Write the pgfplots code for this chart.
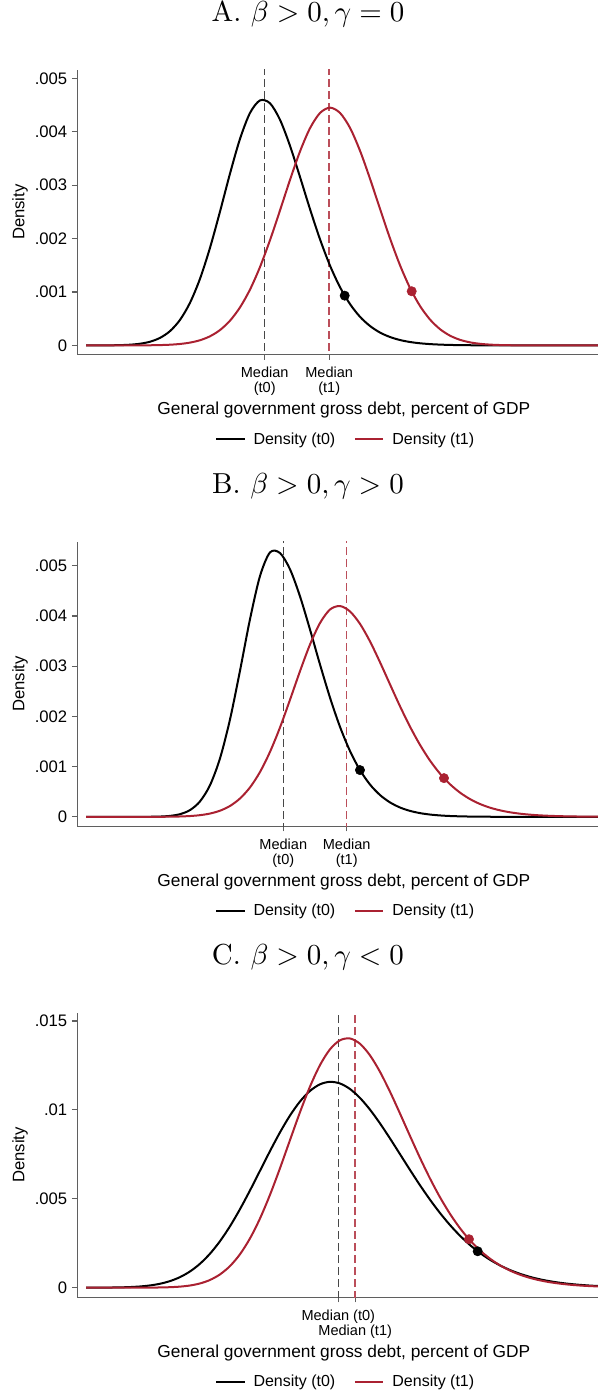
\documentclass[border=0pt]{standalone}
\usepackage{graphicx}
\usepackage{fontspec}
\usepackage{pgfplots}
\pgfplotsset{compat=1.18}
\newfontfamily\arial{Liberation Sans}
\definecolor{dred}{RGB}{170,33,49}
\definecolor{axgray}{RGB}{95,95,95}

% x data are positions along the debt axis (arbitrary units, no numeric ticks in the source)
\pgfplotsset{
  densplot/.style={
    scale only axis, width=390.5pt, height=213.3pt,
    xmin=77.3, xmax=598,
    axis x line=bottom, axis y line=left,
    axis line style={axgray, line width=0.8pt, -},
    every outer x axis line/.append style={-},
    every outer y axis line/.append style={-},
    tick align=outside, major tick length=4pt,
    tick style={axgray, line width=0.8pt},
    scaled y ticks=false,
    yticklabel style={font=\arial\fontsize{12.5}{15}\selectfont, text=black},
    xticklabel style={font=\arial\fontsize{10.9}{11}\selectfont, align=center, text=black, yshift=-2pt},
    xlabel={General government gross debt, percent of GDP},
    xlabel style={at={(axis description cs:0.512,-0.2125)}, anchor=base, font=\arial\fontsize{13}{15}\selectfont},
    ylabel={Density},
    ylabel style={at={(axis description cs:-0.110,0.5)}, anchor=center, font=\arial\fontsize{12.5}{15}\selectfont},
    title style={at={(axis description cs:0.443,1.142)}, anchor=base, inner sep=0pt},
    legend style={at={(axis description cs:0.516,-0.299)}, anchor=center, draw=none, fill=none,
      font=\arial\fontsize{12}{14}\selectfont, legend columns=2,
      /tikz/every odd column/.append style={column sep=4pt},
      /tikz/every even column/.append style={column sep=12pt}},
    legend image code/.code={\draw[#1] (0cm,0cm) -- (0.75cm,0cm);},
  },
  t0/.style={black, line width=1.5pt, smooth},
  t1/.style={dred, line width=1.5pt, smooth},
  med0/.style={black!72, line width=1.05pt, dash pattern=on 6pt off 3pt, forget plot},
  med1/.style={dred!80, line width=1.05pt, dash pattern=on 6pt off 3pt, forget plot},
  dot0/.style={only marks, mark=*, mark size=3.5pt, black, forget plot},
  dot1/.style={only marks, mark=*, mark size=3.5pt, dred, forget plot},
}
\newcommand\ptitle[1]{\scalebox{2.17}{#1}}

\begin{document}
\begin{tikzpicture}
\useasboundingbox (-57.98pt,52.5pt) rectangle (390.53pt,-990.75pt);

% ---------- A ----------
\begin{axis}[densplot, at={(0,0)}, anchor=north west,
  ymin=-0.000168, ymax=0.005155,
  ytick={0,0.001,0.002,0.003,0.004,0.005}, yticklabels={0,.001,.002,.003,.004,.005},
  xtick={264.7,329.2}, xticklabels={{Median\\(t0)},{Median\\(t1)}},
  title={\ptitle{A. $\beta > 0, \gamma = 0$}}]
\addplot[med0] coordinates {(264.7,-0.001) (264.7,0.006)};
\addplot[med1] coordinates {(329.2,-0.001) (329.2,0.006)};
\addplot[t0] coordinates {
  (86,0) (100,0.0000007) (110,0.0000021) (120,0.0000055) (130,0.0000137)
  (140,0.0000318) (150,0.0000692) (160,0.000141) (170,0.000268) (180,0.000478)
  (190,0.000798) (200,0.001248) (210,0.001827) (220,0.002505) (230,0.003216)
  (240,0.003866) (250,0.004351) (260,0.004586) (270,0.004532)
  (280,0.004224) (290,0.003737) (300,0.003154) (310,0.002552) (320,0.001987)
  (330,0.001495) (340,0.001091) (350,0.000775) (360,0.000536) (370,0.000364)
  (380,0.000241) (390,0.0001576) (400,0.0001012) (410,0.0000642) (420,0.0000402)
  (430,0.0000249) (440,0.0000153) (450,0.0000093) (460,0.0000056) (470,0.0000034)
  (480,0.000002) (500,0.0000008) (540,0) (598,0)};
\addlegendentry{Density (t0)}
\addplot[t1] coordinates {
  (86,0) (120,0) (140,0.0000012) (150,0.0000029) (160,0.0000064) (170,0.0000135)
  (180,0.0000273) (190,0.0000527) (200,0.0000971) (210,0.000171) (220,0.000288)
  (230,0.000463) (240,0.000712) (250,0.001045) (260,0.001468) (270,0.00197)
  (280,0.002527) (290,0.003098) (300,0.00363) (310,0.004065) (320,0.00435)
  (330,0.00445) (340,0.004352) (350,0.004073) (360,0.003645) (370,0.003121)
  (380,0.002557) (390,0.002004) (400,0.001502) (410,0.001077) (420,0.000739)
  (430,0.000485) (440,0.000305) (450,0.000183) (460,0.000105) (470,0.0000578)
  (480,0.0000304) (490,0.0000153) (500,0.0000074) (510,0.0000034) (520,0.0000015)
  (540,0) (598,0)};
\addlegendentry{Density (t1)}
\addplot[dot0] coordinates {(344.7,0.000932)};
\addplot[dot1] coordinates {(411.7,0.001014)};
\end{axis}

% ---------- B ----------
\begin{axis}[densplot, at={(0,-353.8pt)}, anchor=north west,
  ymin=-0.000185, ymax=0.005478,
  ytick={0,0.001,0.002,0.003,0.004,0.005}, yticklabels={0,.001,.002,.003,.004,.005},
  xtick={283.3,346.7}, xticklabels={{Median\\(t0)},{Median\\(t1)}},
  title={\ptitle{B. $\beta > 0, \gamma > 0$}}]
\addplot[med0] coordinates {(283.3,-0.001) (283.3,0.006)};
\addplot[med1] coordinates {(346.7,-0.001) (346.7,0.006)};
\addplot[t0] coordinates {
  (86,0) (140,0) (150,0.0000018) (160,0.0000062) (170,0.0000191) (180,0.0000535)
  (190,0.000135) (200,0.0003075) (210,0.00063) (220,0.001164) (230,0.001939)
  (240,0.00291) (250,0.003935) (260,0.004795) (270,0.005266)
  (280,0.005253) (290,0.00493) (300,0.004391) (310,0.00373) (320,0.003035)
  (330,0.002375) (340,0.001793) (350,0.001311) (360,0.000931) (370,0.000644)
  (380,0.000435) (390,0.000288) (400,0.0001866) (410,0.0001189) (420,0.0000746)
  (430,0.0000461) (440,0.0000281) (450,0.000017) (460,0.0000102) (470,0.0000061)
  (480,0.0000036) (500,0.0000013) (540,0) (598,0)};
\addlegendentry{Density (t0)}
\addplot[t1] coordinates {
  (86,0) (140,0) (160,0.0000014) (170,0.0000033) (180,0.0000075) (190,0.0000163)
  (200,0.0000336) (210,0.0000658) (220,0.0001226) (230,0.000217) (240,0.000366)
  (250,0.000586) (260,0.000893) (270,0.001294) (280,0.00178) (290,0.002331)
  (300,0.0029) (310,0.003431) (320,0.003859) (330,0.004128) (340,0.004198)
  (350,0.00409) (360,0.003843) (370,0.003494) (380,0.003079) (390,0.002639)
  (400,0.002203) (410,0.001797) (420,0.001434) (430,0.001121) (440,0.000861)
  (450,0.00065) (460,0.000483) (470,0.000354) (480,0.000256) (490,0.000183)
  (500,0.00013) (510,0.000091) (520,0.0000632) (530,0.0000436) (540,0.0000298)
  (550,0.0000203) (560,0.0000137) (570,0.0000092) (580,0.0000062) (590,0.0000041)
  (598,0.000003)};
\addlegendentry{Density (t1)}
\addplot[dot0] coordinates {(360,0.000931)};
\addplot[dot1] coordinates {(444,0.000771)};
\end{axis}

% ---------- C ----------
\begin{axis}[densplot, at={(0,-707pt)}, anchor=north west,
  ymin=-0.00053, ymax=0.015468,
  ytick={0,0.005,0.01,0.015}, yticklabels={0,.005,.01,.015},
  xtick={338.3}, xticklabels={Median (t0)},
  extra x ticks={355.2}, extra x tick labels={Median (t1)},
  extra x tick style={xticklabel style={yshift=-11.2pt}},
  title={\ptitle{C. $\beta > 0, \gamma < 0$}}]
\addplot[med0] coordinates {(338.3,-0.002) (338.3,0.02)};
\addplot[med1] coordinates {(355.2,-0.002) (355.2,0.02)};
\addplot[t0] coordinates {
  (86,0.000001) (90,0.0000014) (100,0.0000033) (110,0.0000076) (120,0.0000167)
  (130,0.0000345) (140,0.0000674) (150,0.000125) (160,0.00022) (170,0.00037)
  (180,0.000593) (190,0.000912) (200,0.001346) (210,0.001911) (220,0.002615)
  (230,0.003454) (240,0.004417) (250,0.00547) (260,0.006576) (270,0.007682)
  (280,0.008736) (290,0.009683) (300,0.010473) (310,0.011067) (320,0.011439)
  (330,0.011579) (340,0.011486) (350,0.011174) (360,0.010672) (370,0.010014)
  (380,0.009241) (390,0.008394) (400,0.00751) (410,0.006624) (420,0.005763)
  (430,0.00495) (440,0.004201) (450,0.003523) (460,0.002923) (470,0.002399)
  (480,0.00195) (490,0.00157) (500,0.001253) (510,0.000992) (520,0.000779)
  (530,0.000607) (540,0.000469) (550,0.000361) (560,0.000275) (570,0.000209)
  (580,0.000158) (590,0.000118) (598,0.0000937)};
\addlegendentry{Density (t0)}
\addplot[t1] coordinates {
  (86,0) (120,0) (140,0.0000016) (150,0.0000043) (160,0.0000112) (170,0.0000266)
  (180,0.0000589) (190,0.000122) (200,0.000237) (210,0.000433) (220,0.000746)
  (230,0.001216) (240,0.001881) (250,0.002771) (260,0.003891) (270,0.005224)
  (280,0.006719) (290,0.008302) (300,0.009869) (310,0.011311) (320,0.01252)
  (330,0.013408) (340,0.013916) (350,0.014017) (360,0.013718) (370,0.013068)
  (380,0.012142) (390,0.011023) (400,0.009796) (410,0.008536) (420,0.007303)
  (430,0.006142) (440,0.005087) (450,0.004153) (460,0.003345) (470,0.002663)
  (480,0.002095) (490,0.001632) (500,0.001258) (510,0.000962) (520,0.00073)
  (530,0.000549) (540,0.000411) (550,0.000305) (560,0.000226) (570,0.000166)
  (580,0.000121) (590,0.0000885) (598,0.0000686)};
\addlegendentry{Density (t1)}
\addplot[dot0] coordinates {(477.7,0.002047)};
\addplot[dot1] coordinates {(469,0.002725)};
\end{axis}
\end{tikzpicture}
\end{document}
